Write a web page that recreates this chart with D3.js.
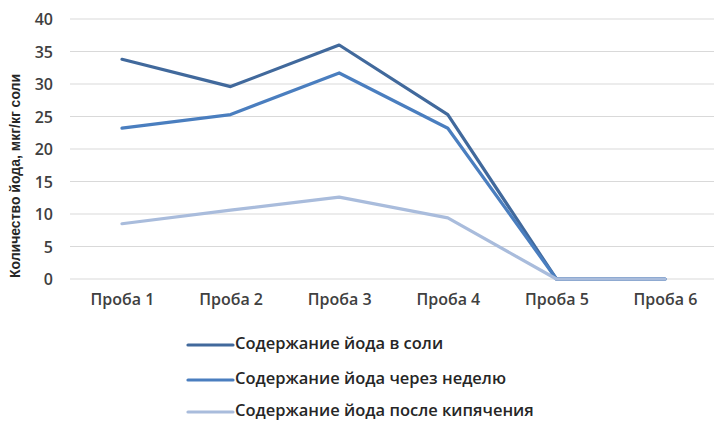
<!DOCTYPE html>
<html>
<head>
<meta charset="utf-8">
<script src="https://cdn.jsdelivr.net/npm/d3@7"></script>
<style>
  body { margin: 0; background: #fff; }
  text { font-family: "Open Sans", "Liberation Sans", sans-serif; }
</style>
</head>
<body>
<div id="chart"></div>
<script>
var categories = ["Проба 1", "Проба 2", "Проба 3", "Проба 4", "Проба 5", "Проба 6"];
var seriesNames = ["Содержание йода в соли", "Содержание йода через неделю", "Содержание йода после кипячения"];
var saltValues = [33.8, 29.6, 36.0, 25.3, 0, 0];
var weekValues = [23.2, 25.3, 31.7, 23.2, 0, 0];
var boiledValues = [8.5, 10.6, 12.6, 9.4, 0, 0];
var yTicks = [0, 5, 10, 15, 20, 25, 30, 35, 40];
var colors = ["#41699c", "#4a7ebf", "#a9bcdc"];

var series = [saltValues, weekValues, boiledValues];

var svg = d3.select("#chart").append("svg")
    .attr("width", 714)
    .attr("height", 422);

var x = d3.scalePoint().domain(categories).range([122, 665]);
var y = d3.scaleLinear().domain([0, 40]).range([279, 19]);

// gridlines
svg.append("g")
    .selectAll("line")
    .data(yTicks)
    .enter().append("line")
    .attr("x1", 70)
    .attr("x2", 714)
    .attr("y1", function(d) { return y(d); })
    .attr("y2", function(d) { return y(d); })
    .style("stroke", "#d9d9d9")
    .style("stroke-width", 1);

// y axis labels
var yAxis = d3.axisLeft(y).tickValues(yTicks).tickSize(0).tickPadding(0);
var gy = svg.append("g")
    .attr("transform", "translate(53,0)")
    .call(yAxis);
gy.select(".domain").remove();
gy.selectAll("text")
    .style("font-family", "'Open Sans', sans-serif")
    .style("font-size", "16px")
    .style("font-weight", "600")
    .style("fill", "#404040")
    .attr("dy", "0.35em");

// x axis labels
var xAxis = d3.axisBottom(x).tickSize(0).tickPadding(0);
var gx = svg.append("g")
    .attr("transform", "translate(0,294)")
    .call(xAxis);
gx.select(".domain").remove();
gx.selectAll("text")
    .style("font-family", "'Open Sans', sans-serif")
    .style("font-size", "16px")
    .style("font-weight", "600")
    .style("fill", "#404040");

// y title
svg.append("text")
    .attr("transform", "translate(20,176) rotate(-90)")
    .attr("text-anchor", "middle")
    .style("font-family", "'Liberation Sans', sans-serif")
    .style("font-size", "14px")
    .style("font-weight", "bold")
    .style("fill", "#262626")
    .text("Количество йода, мкг/кг соли");

var line = d3.line()
    .x(function(d, i) { return x(categories[i]); })
    .y(function(d) { return y(d); });

svg.append("g")
    .selectAll("path")
    .data(series)
    .enter().append("path")
    .attr("d", line)
    .style("fill", "none")
    .style("stroke", function(d, i) { return colors[i]; })
    .style("stroke-width", 3.2)
    .style("stroke-linejoin", "round")
    .style("stroke-linecap", "round");

// legend
var legend = svg.append("g")
    .selectAll("g")
    .data(seriesNames)
    .enter().append("g")
    .attr("transform", function(d, i) { return "translate(187," + [344, 379, 411][i] + ")"; });

legend.append("line")
    .attr("x1", 1)
    .attr("x2", 46)
    .attr("y1", 1)
    .attr("y2", 1)
    .style("stroke", function(d, i) { return colors[i]; })
    .style("stroke-width", 3.2)
    .style("stroke-linecap", "round");

legend.append("text")
    .attr("x", 48)
    .attr("dy", "0.3em")
    .style("font-size", "16.5px")
    .style("font-weight", "600")
    .style("fill", "#262626")
    .text(function(d) { return d; });
</script>
</body>
</html>
